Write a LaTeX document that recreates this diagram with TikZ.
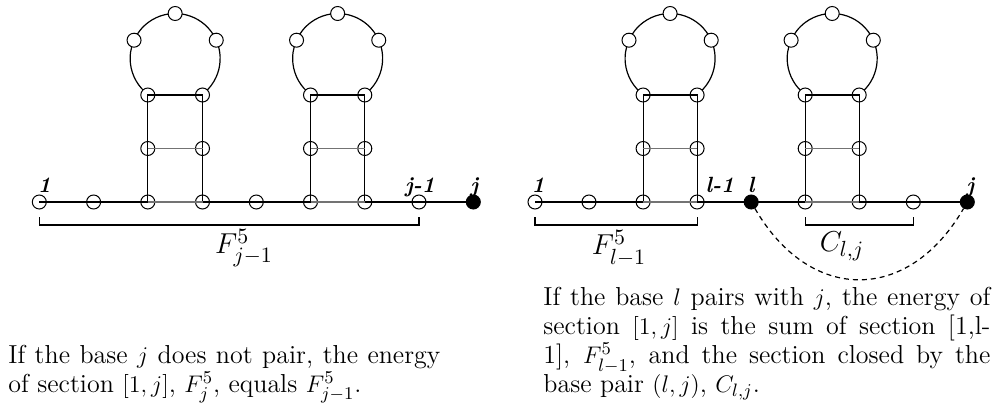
\documentclass[tikz,border=0pt]{standalone}
\usepackage{amsmath}
\begin{document}
\begin{tikzpicture}[x=0.5pt,y=0.5pt,
  base/.style={circle,draw,fill=white,minimum size=7pt,inner sep=0pt,line width=0.5pt},
  filled/.style={base,fill=black},
  ln/.style={line width=0.6pt},
  pln/.style={line width=0.6pt,draw=black!55},
  lbl/.style={anchor=base,inner sep=0pt,font=\fontsize{11}{13}\selectfont\bfseries\itshape},
  blabel/.style={inner sep=0pt,font=\fontsize{15}{17}\selectfont},
  para/.style={anchor=north west,inner sep=0pt,align=justify,font=\fontsize{13}{14.5}\selectfont}
]
\useasboundingbox (0,0) rectangle (998,-412);

% loops and stem nodes
\foreach \h/\xa/\xb in {p/147.8/202.5, q/310.5/364.8, r/643.1/697.1, s/805.2/859.2} {
  \pgfmathsetmacro\cx{(\xa+\xb)/2}
  \draw[ln] (\cx,-58.5) ++(-53.5:22.5pt) arc[start angle=-53.5,end angle=233.5,radius=22.5pt];
  \node[base] (\h lt) at (\cx,-13.5) {};
  \node[base] (\h ll) at (\cx-41.1,-40.2) {};
  \node[base] (\h lr) at (\cx+41.1,-40.2) {};
  \node[base] (\h tl) at (\xa,-95) {};
  \node[base] (\h tr) at (\xb,-95) {};
  \node[base] (\h ml) at (\xa,-148.5) {};
  \node[base] (\h mr) at (\xb,-148.5) {};
}

% backbone nodes, left panel
\foreach \i/\x in {1/39.3,2/93.6,3/147.8,4/202.5,5/256.3,6/310.5,7/364.8,8/419}
  \node[base] (a\i) at (\x,-202) {};
\node[filled] (a9) at (473.3,-202) {};
% backbone nodes, right panel
\foreach \i/\x in {1/535,2/589,3/643.1,4/697.1,6/805.2,7/859.2,8/913.3}
  \node[base] (b\i) at (\x,-202) {};
\node[filled] (b5) at (751.2,-202) {};
\node[filled] (b9) at (967.3,-202) {};

% stems
\foreach \h/\l/\r in {p/a3/a4, q/a6/a7, r/b3/b4, s/b6/b7} {
  \draw[ln] (\l.center) -- (\h ml.center) -- (\h tl.center) -- (\h tr.center) -- (\h mr.center) -- (\r.center);
  \draw[pln] (\h ml.center) -- (\h mr.center);
}

% backbone lines
\draw[ln] (a1.center) -- (a3.center);
\draw[pln] (a3.center) -- (a4.center);
\draw[ln] (a4.center) -- (a6.center);
\draw[pln] (a6.center) -- (a7.center);
\draw[ln] (a7.center) -- (a9.center);
\draw[ln] (b1.center) -- (b3.center);
\draw[pln] (b3.center) -- (b4.center);
\draw[ln] (b4.center) -- (b6.center);
\draw[pln] (b6.center) -- (b7.center);
\draw[ln] (b7.center) -- (b9.center);

% base labels
\node[lbl] (la1) at ([xshift=2.5pt,yshift=5pt]a1.center) {1};
\node[lbl] (la8) at ([xshift=0.5pt,yshift=5pt]a8.center) {j-1};
\node[lbl] (la9) at ([xshift=0.5pt,yshift=5pt]a9.center) {j};
\node[lbl] (lb1) at ([xshift=1.5pt,yshift=5pt]b1.center) {1};
\node[lbl,anchor=base west] (lb4) at ([xshift=4pt,yshift=5pt]b4.center) {l-1};
\node[lbl] (lb5) at ([xshift=0pt,yshift=5pt]b5.center) {l};
\node[lbl] (lb9) at ([xshift=1.5pt,yshift=5pt]b9.center) {j};

% brackets
\draw[ln] ([yshift=-7.5pt]a1.center) -- ([yshift=-11.5pt]a1.center) -- ([yshift=-11.5pt]a8.center) -- ([yshift=-7.5pt]a8.center);
\draw[ln] ([yshift=-7.5pt]b1.center) -- ([yshift=-11.5pt]b1.center) -- ([yshift=-11.5pt]b4.center) -- ([yshift=-7.5pt]b4.center);
\draw[ln] ([yshift=-7.5pt]b6.center) -- ([yshift=-11.5pt]b6.center) -- ([yshift=-11.5pt]b8.center) -- ([yshift=-7.5pt]b8.center);
\node[blabel] (fa) at (244,-248) {$F^5_{j-1}$};
\node[blabel] (fb) at (619,-248) {$F^5_{l-1}$};
\node[blabel] (cb) at (842,-246) {$C_{l,j}$};

% closing pair
\draw[ln,dash pattern=on 2.5pt off 2pt] (b5) to[out=-60,in=-120,looseness=1.35] (b9);

% captions
\node[para,text width=216pt] (t1) at (8,-345) {If the base $j$ does not pair, the energy\linebreak of section $[1,j]$, $F^5_j$, equals $F^5_{j-1}$.};
\node[para,text width=223.5pt] (t2) at (543,-287) {If the base $l$ pairs with $j$, the energy of\linebreak section $[1,j]$ is the sum of section [1,l-\linebreak 1], $F^5_{l-1}$, and the section closed by the\linebreak base pair $(l,j)$, $C_{l,j}$.};
\end{tikzpicture}
\end{document}
